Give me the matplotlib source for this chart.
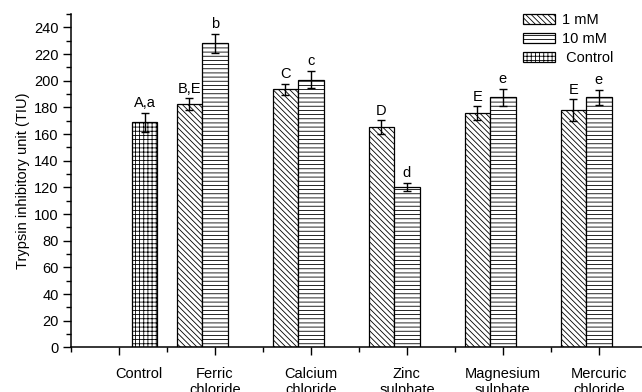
import numpy as np
import matplotlib
matplotlib.use('Agg')
import matplotlib.pyplot as plt
from matplotlib.ticker import MultipleLocator
from matplotlib.transforms import ScaledTranslation

plt.rcParams['font.family'] = ['Liberation Sans', 'DejaVu Sans']
plt.rcParams['hatch.linewidth'] = 0.6

categories = ['Control', 'Ferric\nchloride', 'Calcium\nchloride', 'Zinc\nsulphate',
              'Magnesium\nsulphate', 'Mercuric\nchloride']
# nan = no bar in that category
mm1 = [np.nan, 182.6, 193.6, 165.3, 175.6, 178.1]
mm1_err = [0, 4.3, 4.0, 5.0, 5.2, 8.0]
mm10 = [np.nan, 228.0, 200.9, 120.2, 187.6, 187.6]
mm10_err = [0, 7.3, 6.6, 3.0, 6.5, 5.7]
ctrl = [168.8, np.nan, np.nan, np.nan, np.nan, np.nan]
ctrl_err = [7.0, 0, 0, 0, 0, 0]
mm1_lbl = ['', 'B,E', 'C', 'D', 'E', 'E']
mm10_lbl = ['', 'b', 'c', 'd', 'e', 'e']
ctrl_lbl = ['A,a', '', '', '', '', '']

fs = 10.5

fig = plt.figure(figsize=(6.42, 3.92), dpi=100)
ax = fig.add_axes([0.1106, 0.114, 0.8894, 0.85])

x = np.arange(1, len(categories) + 1)
w = 0.266
series = [
    (mm1, mm1_err, mm1_lbl, -w, '\\\\\\\\\\\\', '1 mM'),
    (mm10, mm10_err, mm10_lbl, 0, '----', '10 mM'),
    (ctrl, ctrl_err, ctrl_lbl, w, '++++', ' Control'),
]
for vals, errs, lbls, off, hatch, name in series:
    vals = np.array(vals)
    ax.bar(x + off, vals, w, color='white', edgecolor='black', hatch=hatch,
           linewidth=0.9, label=name)
    ok = ~np.isnan(vals)
    ax.errorbar((x + off)[ok], vals[ok], yerr=np.array(errs)[ok], fmt='none',
                ecolor='black', elinewidth=1.0, capsize=3, capthick=1.0)
    for xi, v, e, t in zip(x + off, vals, errs, lbls):
        if t:
            ax.text(xi, v + e + 2.0, t, ha='center', va='bottom', fontsize=fs)

ax.set_xlim(0.5, 6.45)
ax.set_ylim(0, 250)
ax.set_xticks(x)
ax.set_xticklabels(categories, fontsize=fs, linespacing=1.2)
ax.xaxis.set_minor_locator(MultipleLocator(0.5))
ax.yaxis.set_major_locator(MultipleLocator(20))
ax.yaxis.set_minor_locator(MultipleLocator(10))
ax.tick_params(axis='both', which='major', direction='out', length=6, width=1,
               labelsize=fs)
ax.tick_params(axis='x', which='major', pad=8)
ax.tick_params(axis='y', which='major', pad=3)
ax.tick_params(axis='both', which='minor', direction='out', length=3.5, width=1)
for s in ['top', 'right']:
    ax.spines[s].set_visible(False)
for s in ['left', 'bottom']:
    ax.spines[s].set_linewidth(1.1)

# the "Control" label sits right of its tick in the original
lab = ax.get_xticklabels()[0]
lab.set_transform(lab.get_transform() + ScaledTranslation(0.2, 0, fig.dpi_scale_trans))

ax.set_ylabel('Trypsin inhibitory unit (TIU)', fontsize=fs, labelpad=3)

ax.legend(loc='upper left', bbox_to_anchor=(523 / 642, 1 - 13 / 392),
          bbox_transform=fig.transFigure, frameon=False, fontsize=fs,
          handlelength=2.2, handleheight=0.7, labelspacing=0.35,
          handletextpad=0.5, borderpad=0, borderaxespad=0)

fig.savefig('out.png', dpi=100)
